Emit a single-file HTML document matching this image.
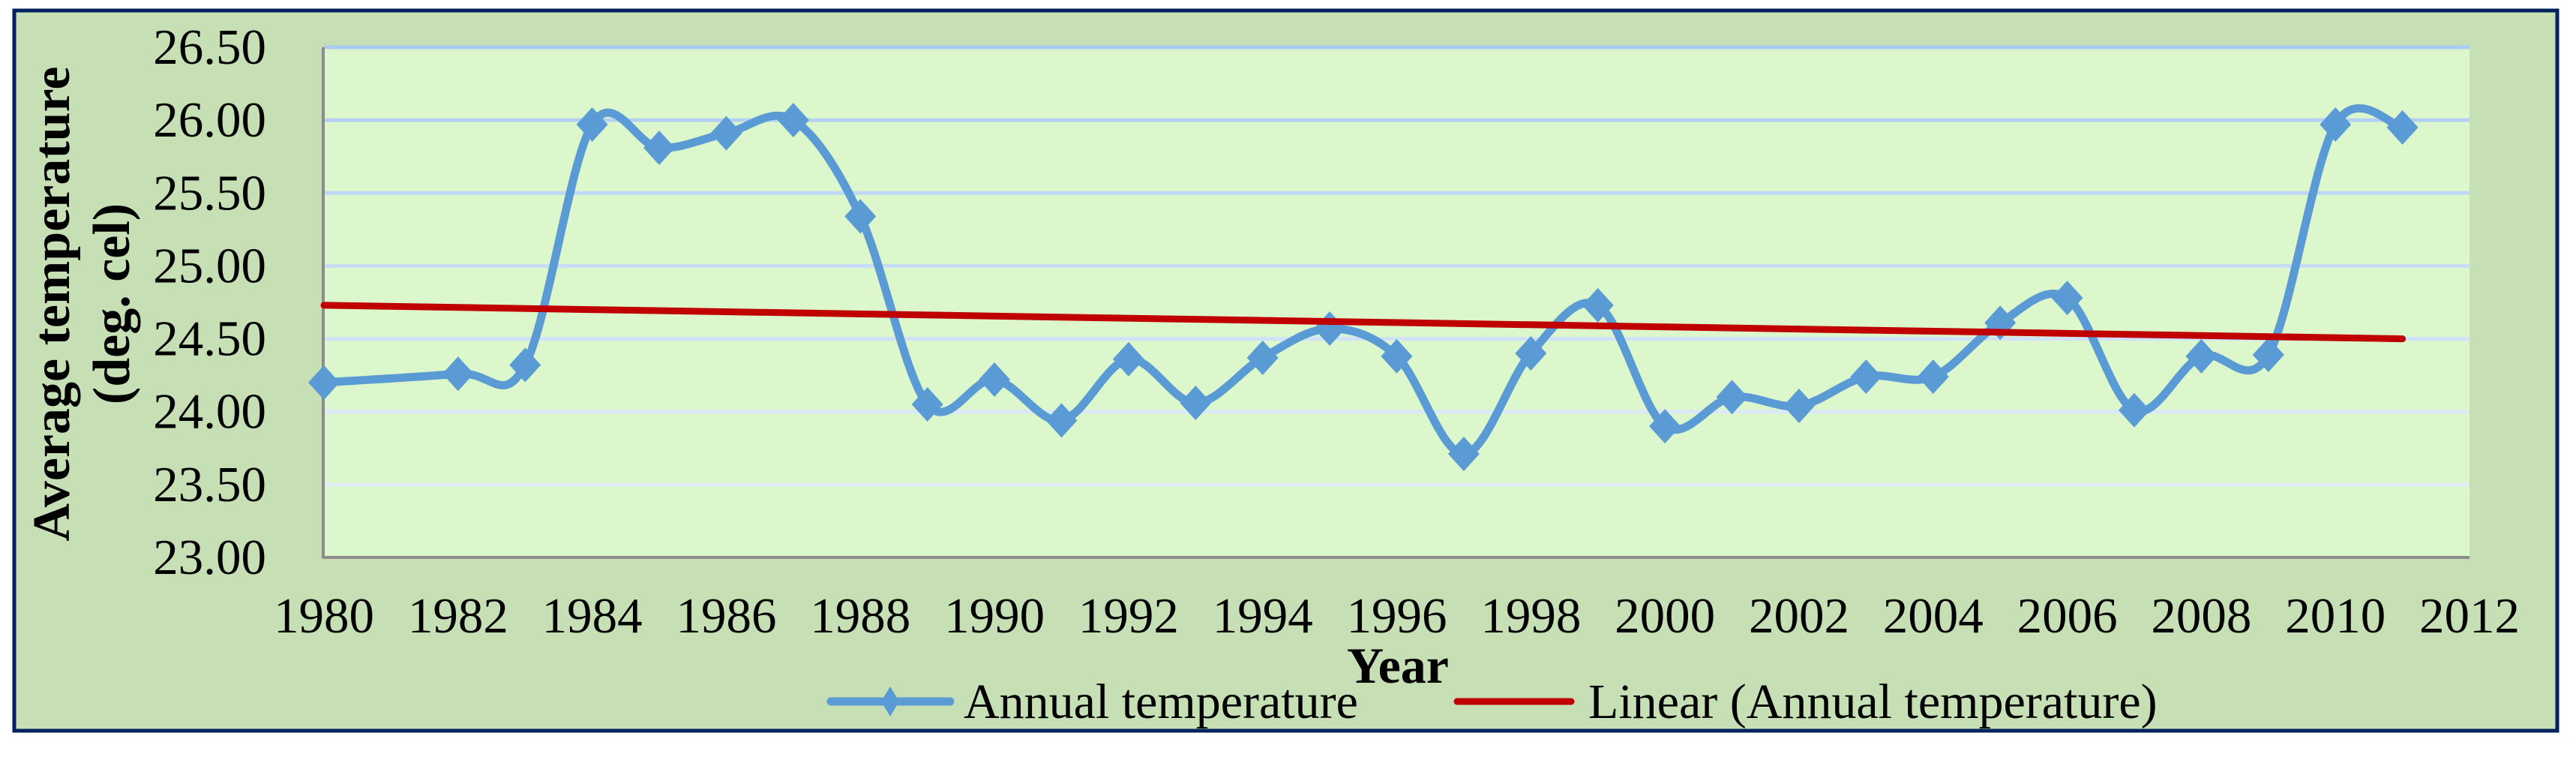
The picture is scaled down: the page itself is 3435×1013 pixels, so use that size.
<!DOCTYPE html>
<html><head><meta charset="utf-8"><style>
html,body{margin:0;padding:0;background:#fff;}
body{width:3435px;height:1008px;overflow:hidden;}
svg, svg text{font-family:"Liberation Serif","Times New Roman",serif;}
</style></head><body>
<svg id="chart" width="3435" height="1008" viewBox="0 0 3435 1008" font-family="Liberation Serif, serif">
<rect x="19" y="14" width="3391" height="960" fill="#c6dfb4" stroke="#002060" stroke-width="5"/>
<rect x="432" y="63" width="2861" height="680" fill="#ddf7cc"/>
<g id="grid"></g>
<g id="yticks"></g>
<g id="xticks"></g>
<line x1="431" y1="63" x2="431" y2="744" stroke="#8c8c8c" stroke-width="4"/>
<line x1="430" y1="743" x2="3293" y2="743" stroke="#8c8c8c" stroke-width="4"/>
<g id="series"></g>
<g id="trend"></g>
<text transform="translate(92,405) rotate(-90)" text-anchor="middle" font-size="70" font-weight="bold" font-family="Liberation Serif, serif">Average temperature</text>
<text transform="translate(172,405) rotate(-90)" text-anchor="middle" font-size="70" font-weight="bold" font-family="Liberation Serif, serif">(deg. cel)</text>
<text x="1864" y="910" text-anchor="middle" font-size="68" font-weight="bold" font-family="Liberation Serif, serif">Year</text>
<g>
<g>
<line x1="1108" y1="935" x2="1267" y2="935" stroke="#5b9bd5" stroke-width="11" stroke-linecap="round"/>
<path d="M1187 915 L1199 935 L1187 955 L1175 935 Z" fill="#5b9bd5"/>
<text x="1285" y="957" font-size="66" font-family="Liberation Serif, serif">Annual temperature</text>
</g>
<g>
<line x1="1943" y1="935" x2="2095" y2="935" stroke="#c00000" stroke-width="9" stroke-linecap="round"/>
<text x="2118" y="957" font-size="66" font-family="Liberation Serif, serif">Linear (Annual temperature)</text>
</g>
</g>
</svg>
<script>
const years = [1980,1982,1983,1984,1985,1986,1987,1988,1989,1990,1991,1992,1993,1994,1995,1996,1997,1998,1999,2000,2001,2002,2003,2004,2005,2006,2007,2008,2009,2010,2011];
const temps = [24.20,24.26,24.32,25.97,25.81,25.91,26.00,25.34,24.05,24.22,23.94,24.36,24.06,24.37,24.57,24.38,23.71,24.40,24.73,23.90,24.10,24.04,24.24,24.24,24.61,24.78,24.01,24.38,24.39,25.97,25.95];
const trendYears = [1980,2011];
const trendValues = [24.73,24.50];
const yTicks = [23.00,23.50,24.00,24.50,25.00,25.50,26.00,26.50];
const xTicks = [1980,1982,1984,1986,1988,1990,1992,1994,1996,1998,2000,2002,2004,2006,2008,2010,2012];

const NS='http://www.w3.org/2000/svg';
const X0=432,X1=3293,Y0=743,Y1=63;
function xs(v){return X0+(v-1980)/(2012-1980)*(X1-X0);}
function ys(v){return Y0-(v-23)/(26.5-23)*(Y0-Y1);}
function mk(tag,attrs,parent){const e=document.createElementNS(NS,tag);for(const k in attrs)e.setAttribute(k,attrs[k]);parent.appendChild(e);return e;}

const grid=document.getElementById('grid');
const gcols=['#e3edf7','#dae8f7','#d0e2f7','#c7ddf6','#bdd7f5','#b4d1f4','#aacbf2'];
yTicks.forEach((t,i)=>{
  if(i===0)return;
  const l=mk('line',{x1:X0,x2:X1,y1:ys(t),y2:ys(t),stroke:gcols[i-1],'stroke-width':5},grid);
  
  
});
const yt=document.getElementById('yticks');
yTicks.forEach(t=>{
  const e=mk('text',{x:355,y:ys(t)+22,'text-anchor':'end','font-size':67,'font-family':'Liberation Serif, serif'},yt);
  e.textContent=t.toFixed(2);
  
  
});
const xt=document.getElementById('xticks');
xTicks.forEach(t=>{
  const e=mk('text',{x:xs(t),y:843,'text-anchor':'middle','font-size':67,'font-family':'Liberation Serif, serif'},xt);
  e.textContent=t;
  
  
});
const pts=years.map((y,i)=>[xs(y),ys(temps[i])]);
let d='M'+pts[0][0]+' '+pts[0][1];
for(let i=0;i<pts.length-1;i++){
  const p0=pts[Math.max(0,i-1)],p1=pts[i],p2=pts[i+1],p3=pts[Math.min(pts.length-1,i+2)];
  const t=1/6;
  const c1=[p1[0]+(p2[0]-p0[0])*t,p1[1]+(p2[1]-p0[1])*t];
  const c2=[p2[0]-(p3[0]-p1[0])*t,p2[1]-(p3[1]-p1[1])*t];
  d+=` C${c1[0]} ${c1[1]} ${c2[0]} ${c2[1]} ${p2[0]} ${p2[1]}`;
}
const ser=document.getElementById('series');
const path=mk('path',{d:d,fill:'none',stroke:'#5b9bd5','stroke-width':11,'stroke-linejoin':'round','stroke-linecap':'round'},ser);


pts.forEach(p=>{
  const m=mk('path',{d:`M${p[0]} ${p[1]-23} L${p[0]+21} ${p[1]} L${p[0]} ${p[1]+23} L${p[0]-21} ${p[1]} Z`,fill:'#5b9bd5'},ser);
  
  
});
const tr=document.getElementById('trend');
const tl=mk('line',{x1:xs(trendYears[0]),y1:ys(trendValues[0]),x2:xs(trendYears[1]),y2:ys(trendValues[1]),stroke:'#c00000','stroke-width':9,'stroke-linecap':'round'},tr);


</script>
</body></html>
